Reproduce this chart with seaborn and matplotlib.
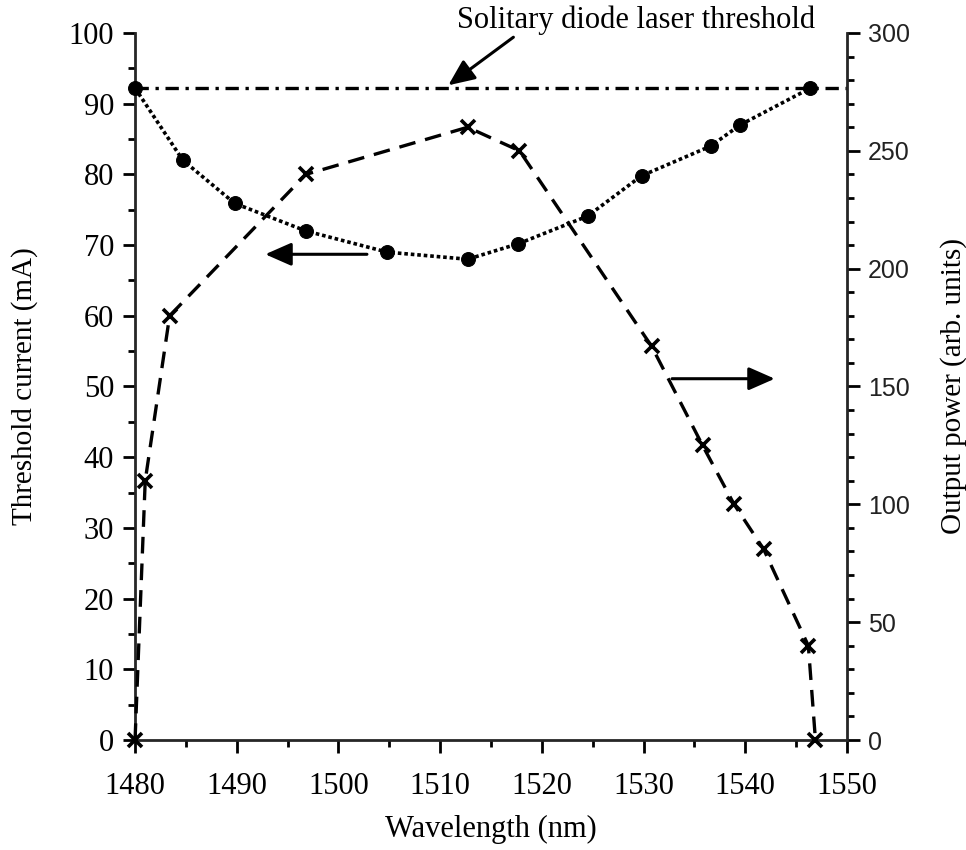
import matplotlib
matplotlib.use("Agg")
import matplotlib.pyplot as plt
from matplotlib.ticker import MultipleLocator
import seaborn as sns

# Threshold current of the external-cavity laser (left axis, mA)
wl_threshold = [1480.0, 1484.7, 1489.8, 1496.8, 1504.8, 1512.7, 1517.7,
                1524.5, 1529.8, 1536.6, 1539.5, 1546.4]
threshold_mA = [92.2, 82.0, 75.9, 72.0, 69.0, 68.0, 70.2, 74.1, 79.8,
                84.0, 87.0, 92.2]

# Output power (right axis, arb. units)
wl_power = [1480.0, 1481.0, 1483.4, 1496.8, 1512.7, 1517.8, 1530.8,
            1535.8, 1538.9, 1541.8, 1546.2, 1546.9]
power_arb = [0, 110, 180, 240, 260, 250, 167, 125, 100, 81, 40, 0]

# Solitary diode threshold level (mA)
solitary_threshold = 92.2

x_ticks = [1480, 1490, 1500, 1510, 1520, 1530, 1540, 1550]
left_ticks = [0, 10, 20, 30, 40, 50, 60, 70, 80, 90, 100]
right_ticks = [0, 50, 100, 150, 200, 250, 300]

sns.set_theme(style="ticks")
serif = ["Liberation Serif", "DejaVu Serif"]
sans = ["Liberation Sans", "DejaVu Sans"]
plt.rcParams["font.family"] = serif
plt.rcParams["axes.linewidth"] = 2.0

fig = plt.figure(figsize=(9.66, 8.5), dpi=100)
ax = fig.add_axes([0.1398, 0.1294, 0.8768 - 0.1398, 0.9612 - 0.1294])
ax2 = ax.twinx()

# threshold current: dotted line with filled circles
sns.lineplot(x=wl_threshold, y=threshold_mA, ax=ax, color="black",
             linestyle=(0, (1, 0.8)), linewidth=2.6, marker="o",
             markersize=10, markeredgecolor="black", clip_on=False,
             zorder=4)

# output power: dashed line with crosses
sns.lineplot(x=wl_power, y=power_arb, ax=ax2, color="black",
             linestyle=(0, (5, 3)), linewidth=2.4, marker="x",
             markersize=10, markeredgewidth=2.6, markeredgecolor="black",
             clip_on=False, zorder=4)

# solitary laser threshold: dash-dot line
ax.plot([x_ticks[0], x_ticks[-1]], [solitary_threshold] * 2, color="black",
        linewidth=2.4, linestyle=(0, (4, 2, 1, 2)), zorder=3)

ax.set_xlim(1480, 1550)
ax.set_ylim(0, 100)
ax2.set_ylim(0, 300)

ax.set_xticks(x_ticks)
ax.set_yticks(left_ticks)
ax2.set_yticks(right_ticks)
ax.xaxis.set_minor_locator(MultipleLocator(5))
ax.yaxis.set_minor_locator(MultipleLocator(5))
ax2.yaxis.set_minor_locator(MultipleLocator(10))

for a in (ax, ax2):
    a.spines["top"].set_visible(False)
    a.tick_params(which="major", length=9, width=2.0, color="black")
    a.tick_params(which="minor", length=5, width=2.0, color="black")
ax.spines["right"].set_visible(False)
ax2.spines["left"].set_visible(False)
ax2.spines["bottom"].set_visible(False)

ax.tick_params(axis="y", labelsize=22, labelcolor="black", pad=6)
ax.tick_params(axis="x", labelsize=22, labelcolor="black", pad=14)
ax2.tick_params(axis="y", labelsize=18, labelcolor="#222222", pad=6)
for lbl in ax2.get_yticklabels():
    lbl.set_family(sans)

ax.set_xlabel("Wavelength (nm)", fontsize=22, color="black", labelpad=10)
ax.set_ylabel("Threshold current (mA)", fontsize=21, color="black",
              labelpad=22)
ax2.set_ylabel("Output power (arb. units)", fontsize=21, color="black",
               rotation=90, labelpad=22)

# annotation for the solitary laser threshold
ax.text(1529.3, 100.7, "Solitary diode laser threshold", fontsize=22,
        ha="center", va="baseline", color="black", clip_on=False)
arrow = dict(arrowstyle="-|>,head_length=0.5,head_width=0.22",
             mutation_scale=32, linewidth=2.2, color="black",
             shrinkA=0, shrinkB=0)
ax.annotate("", xy=(1510.8, 92.6), xytext=(1517.2, 99.4),
            arrowprops=arrow, annotation_clip=False)

# axis indicator arrows
ax.annotate("", xy=(1492.8, 68.7), xytext=(1502.8, 68.7),
            arrowprops=arrow)
ax.annotate("", xy=(1542.9, 51.1), xytext=(1532.8, 51.1),
            arrowprops=arrow)

fig.savefig("out.png", dpi=100, facecolor="white")
